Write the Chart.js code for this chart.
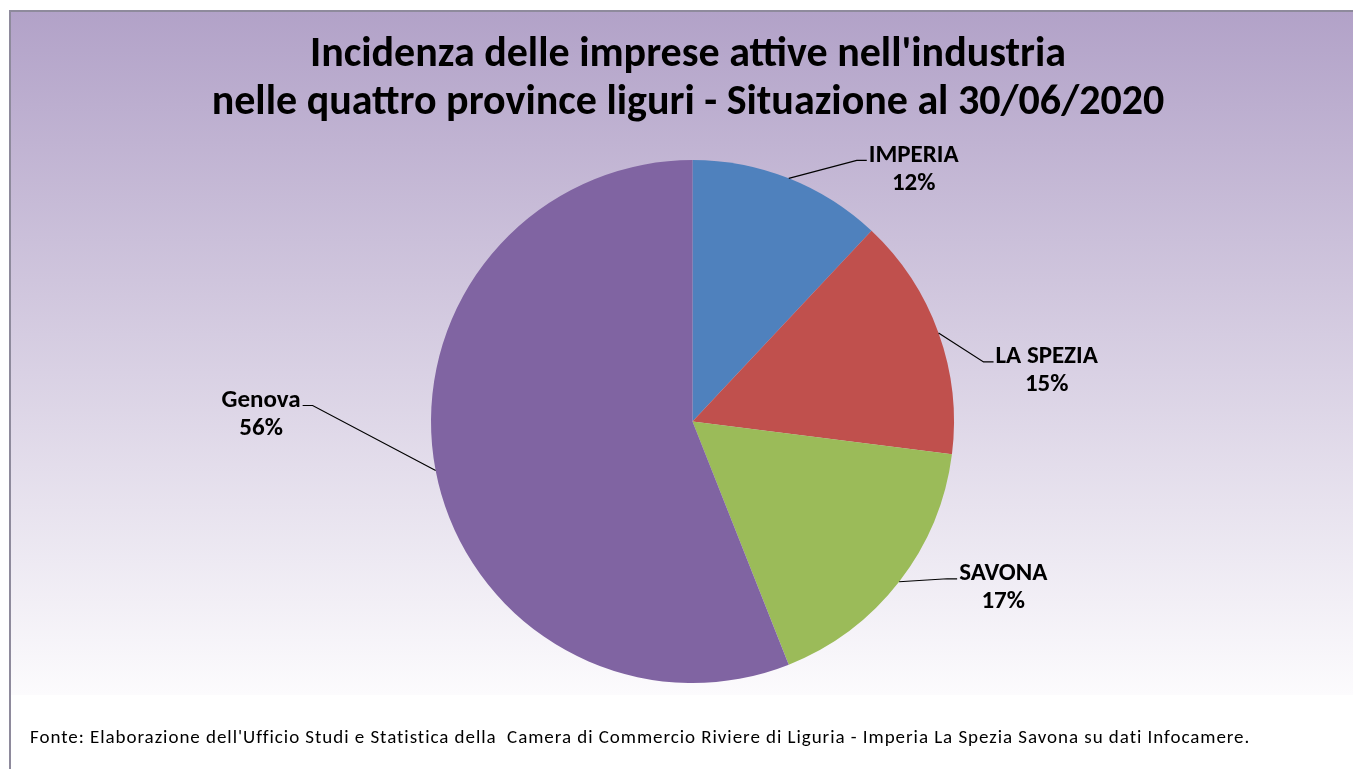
<!DOCTYPE html>
<html>
<head>
<meta charset="utf-8">
<script src="https://cdn.jsdelivr.net/npm/chart.js@4.4.1/dist/chart.umd.min.js"></script>
<style>
  html, body { margin: 0; padding: 0; background: #fff; }
  #wrap { position: relative; width: 1353px; height: 769px; overflow: hidden; }
  #bg {
    position: absolute; left: 9px; top: 10px; width: 1360px; height: 683px;
    background: linear-gradient(to bottom, #b2a2c8 0%, #fcfbfd 100%);
    border-top: 2px solid #8e8a9c;
  }
  #leftline { position: absolute; left: 9px; top: 10px; width: 2px; height: 759px; background: #8e8a9c; }
  #chart { position: absolute; left: 0; top: 0; }
  #fonte {
    position: absolute; left: 30px; top: 725px;
    font-family: Carlito, Calibri, "Liberation Sans Narrow", "Open Sans", sans-serif;
    font-size: 19px; letter-spacing: 0.95px; color: #000; white-space: pre;
  }
</style>
</head>
<body>
<div id="wrap">
  <div id="bg"></div>
  <div id="leftline"></div>
  <canvas id="chart" width="1353" height="769"></canvas>
  <div id="fonte">Fonte: Elaborazione dell'Ufficio Studi e Statistica della  Camera di Commercio Riviere di Liguria - Imperia La Spezia Savona su dati Infocamere.</div>
</div>
<script>
// data
const provinces = ['IMPERIA', 'LA SPEZIA', 'SAVONA', 'Genova'];
const shares = [12, 15, 17, 56];
const sliceColors = ['#4f81bd', '#c0504d', '#9bbb59', '#8064a2'];
const titleLines = ["Incidenza delle imprese attive nell'industria", 'nelle quattro province liguri - Situazione al 30/06/2020'];

const FONT = "Carlito, Calibri, 'Liberation Sans Narrow', 'Open Sans', sans-serif";

// where the leader line bends, relative to the slice edge (dx, dy)
const leaderBends = [[68, -18], [45, 29], [48, -3], [-123, -65]];

// title drawn by hand so it is not squeezed into the padded pie box
const titlePlugin = {
  id: 'wideTitle',
  afterDraw(chart) {
    const ctx = chart.ctx;
    ctx.save();
    ctx.font = 'bold 42px ' + FONT;
    ctx.fillStyle = '#000';
    ctx.textAlign = 'center';
    ctx.textBaseline = 'middle';
    ctx.fillText(titleLines[0], 688, 55);
    ctx.fillText(titleLines[1], 688, 103);
    ctx.restore();
  }
};

const labelPlugin = {
  id: 'leaderLabels',
  afterDatasetsDraw(chart) {
    const ctx = chart.ctx;
    const meta = chart.getDatasetMeta(0);
    const total = shares.reduce((a, b) => a + b, 0);
    ctx.save();
    ctx.font = 'bold 25px ' + FONT;
    ctx.strokeStyle = '#000';
    ctx.lineWidth = 1.2;
    ctx.fillStyle = '#000';
    ctx.textBaseline = 'middle';
    ctx.textAlign = 'center';
    meta.data.forEach((arc, i) => {
      const p = arc.getProps(['x', 'y', 'startAngle', 'endAngle', 'outerRadius'], true);
      const mid = (p.startAngle + p.endAngle) / 2;
      const ex = p.x + Math.cos(mid) * p.outerRadius;
      const ey = p.y + Math.sin(mid) * p.outerRadius;
      const bx = ex + leaderBends[i][0];
      const by = ey + leaderBends[i][1];
      const right = leaderBends[i][0] > 0;
      const hx = bx + (right ? 10 : -10);
      ctx.beginPath();
      ctx.moveTo(ex, ey);
      ctx.lineTo(bx, by);
      ctx.lineTo(hx, by);
      ctx.stroke();
      const l1 = provinces[i];
      const l2 = Math.round(shares[i] / total * 100) + '%';
      const w = Math.max(ctx.measureText(l1).width, ctx.measureText(l2).width);
      const cx = right ? hx + 2 + w / 2 : hx - 2 - w / 2;
      ctx.fillText(l1, cx, by - 5);
      ctx.fillText(l2, cx, by + 23);
    });
    ctx.restore();
  }
};

new Chart(document.getElementById('chart').getContext('2d'), {
  type: 'pie',
  data: {
    labels: provinces,
    datasets: [{
      data: shares,
      backgroundColor: sliceColors,
      borderWidth: 0
    }]
  },
  options: {
    responsive: false,
    animation: false,
    layout: { padding: { top: 160, bottom: 86, left: 431, right: 399 } },
    plugins: {
      legend: { display: false },
      tooltip: { enabled: false },
      title: { display: false }
    }
  },
  plugins: [labelPlugin, titlePlugin]
});
</script>
</body>
</html>
